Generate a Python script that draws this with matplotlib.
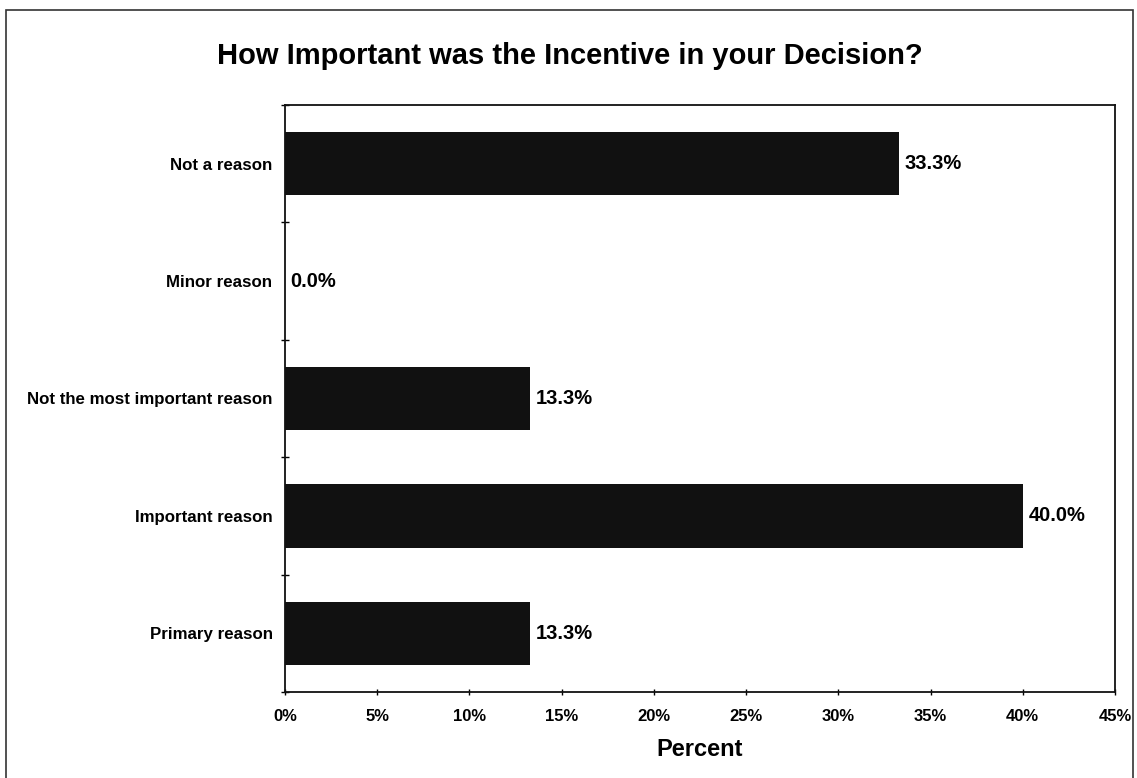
import matplotlib
matplotlib.use("Agg")
import matplotlib.pyplot as plt
from matplotlib.patches import Rectangle
from matplotlib.ticker import FixedLocator, FuncFormatter

categories = ["Not a reason", "Minor reason", "Not the most important reason",
              "Important reason", "Primary reason"]
values = [33.3, 0.0, 13.3, 40.0, 13.3]
xticks = [0, 5, 10, 15, 20, 25, 30, 35, 40, 45]

plt.rcParams['font.family'] = ['Liberation Sans', 'DejaVu Sans']

W, H = 1137, 778
fig = plt.figure(figsize=(W / 100, H / 100), dpi=100)
fig.patch.set_facecolor('white')

# outer chart border
fig.add_artist(Rectangle((6 / W, -0.01), (1133 - 6) / W, 1 - 10 / H + 0.01,
                         transform=fig.transFigure, fill=False,
                         edgecolor='#333333', linewidth=1.2))

left, right, top, bottom = 285, 1115, 105, 692
ax = fig.add_axes([left / W, 1 - bottom / H, (right - left) / W, (bottom - top) / H])

n = len(categories)
pos = list(range(n))
ax.barh(pos, values, height=0.54, color='#111111', linewidth=0)
ax.set_ylim(n - 0.5, -0.5)
ax.set_xlim(0, 45)

ax.set_yticks(pos)
ax.set_yticklabels(categories, fontsize=12.2, fontweight='bold')
ax.tick_params(axis='y', length=0, pad=9)
ax.yaxis.set_minor_locator(FixedLocator([i - 0.5 for i in range(n + 1)]))
ax.tick_params(axis='y', which='minor', length=6, direction='inout', width=1)

ax.set_xticks(xticks)
ax.xaxis.set_major_formatter(FuncFormatter(lambda v, p: f"{v:.0f}%"))
ax.tick_params(axis='x', length=5, direction='inout', width=1, pad=10,
               labelsize=12)
for lab in ax.get_xticklabels():
    lab.set_fontweight('bold')

for sp in ax.spines.values():
    sp.set_linewidth(1.3)
    sp.set_color('#111111')

for i, v in enumerate(values):
    ax.text(v + 0.3, i, f"{v:.1f}%", va='center', ha='left',
            fontsize=14.5, fontweight='bold')

ax.set_xlabel("Percent", fontsize=17, fontweight='bold', labelpad=10)
fig.text(0.5 * (6 + 1133) / W, 1 - 56 / H,
         "How Important was the Incentive in your Decision?",
         ha='center', va='center', fontsize=21, fontweight='bold')

fig.savefig("out.png", dpi=100, facecolor='white')
